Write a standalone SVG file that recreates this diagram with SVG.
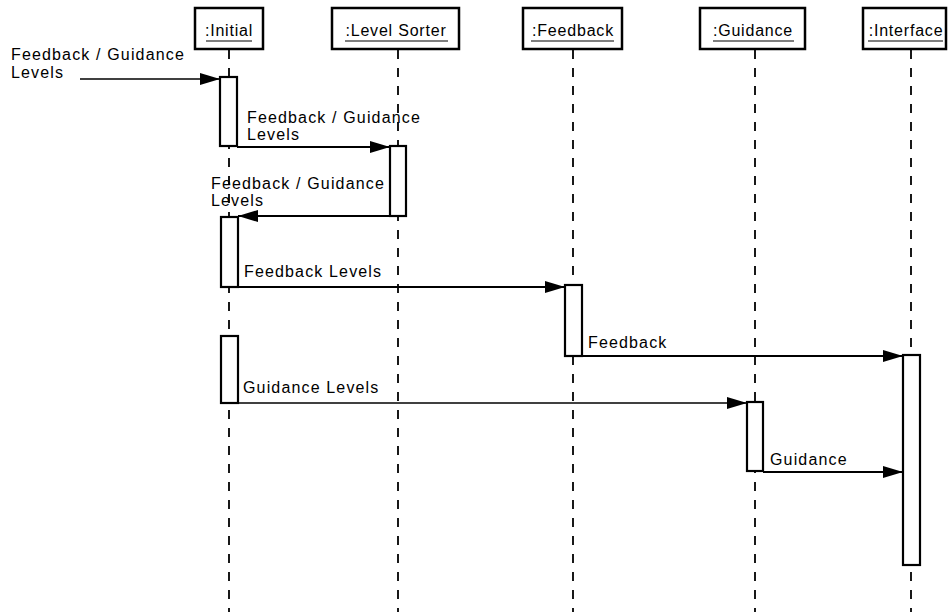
<svg xmlns="http://www.w3.org/2000/svg" width="948" height="612" viewBox="0 0 948 612">
<style>
  text { font-family: "Liberation Sans", Arial, sans-serif; font-size: 16px; letter-spacing: 0.8px; fill: #000; }
  .lbl { letter-spacing: 1.15px; }
  .head { fill: #fff; stroke: #000; stroke-width: 2.5; }
  .uline { stroke: #000; stroke-width: 1.2; }
  .life { stroke: #000; stroke-width: 1.8; stroke-dasharray: 9 9; fill: none; }
  .act { fill: #fff; stroke: #000; stroke-width: 2.2; }
  .msg { stroke: #000; stroke-width: 2.2; fill: none; marker-end: url(#arr); }
  .thin { stroke-width: 1.6; }
</style>
<defs>
  <marker id="arr" markerUnits="userSpaceOnUse" markerWidth="20" markerHeight="12" refX="20" refY="6" orient="auto">
    <path d="M0,0 L20,6 L0,12 Z" fill="#000"/>
  </marker>
</defs>
<rect width="948" height="612" fill="#fff"/>

<g id="lifelines">
  <line class="life" x1="229" y1="50" x2="229" y2="612"/>
  <line class="life" x1="398" y1="50" x2="398" y2="612"/>
  <line class="life" x1="573" y1="50" x2="573" y2="612"/>
  <line class="life" x1="755" y1="50" x2="755" y2="612"/>
  <line class="life" x1="911" y1="50" x2="911" y2="612"/>
</g>

<g id="initial">
  <rect class="head" x="195" y="8" width="68" height="41"/>
  <text x="229" y="36" text-anchor="middle">:Initial</text>
  <line class="uline" x1="206" y1="41" x2="252" y2="41"/>
  <rect class="act" x="220" y="77" width="17" height="69"/>
  <rect class="act" x="221" y="217" width="17" height="70"/>
  <rect class="act" x="221" y="336" width="17" height="67"/>
</g>

<g id="level-sorter">
  <rect class="head" x="332" y="8" width="127" height="41"/>
  <text x="396" y="36" text-anchor="middle">:Level Sorter</text>
  <line class="uline" x1="345" y1="41" x2="448" y2="41"/>
  <rect class="act" x="390" y="146" width="16" height="70"/>
</g>

<g id="feedback">
  <rect class="head" x="523" y="8" width="99" height="41"/>
  <text x="573" y="36" text-anchor="middle">:Feedback</text>
  <line class="uline" x1="531" y1="41" x2="614" y2="41"/>
  <rect class="act" x="565" y="285" width="17" height="71"/>
</g>

<g id="guidance">
  <rect class="head" x="700" y="8" width="105" height="41"/>
  <text x="753" y="36" text-anchor="middle">:Guidance</text>
  <line class="uline" x1="713" y1="41" x2="794" y2="41"/>
  <rect class="act" x="747" y="402" width="16" height="69"/>
</g>

<g id="interface">
  <rect class="head" x="863" y="8" width="83" height="41"/>
  <text x="906" y="36" text-anchor="middle">:Interface</text>
  <line class="uline" x1="868" y1="41" x2="943" y2="41"/>
  <rect class="act" x="903" y="355" width="17" height="210"/>
</g>

<g id="connectors">
  <line class="msg thin" x1="80" y1="79" x2="220" y2="79"/>
  <line class="msg" x1="237" y1="147" x2="390" y2="147"/>
  <line class="msg" x1="390" y1="216" x2="238" y2="216"/>
  <line class="msg" x1="238" y1="287" x2="565" y2="287"/>
  <line class="msg" x1="582" y1="356" x2="903" y2="356"/>
  <line class="msg thin" x1="238" y1="403" x2="747" y2="403"/>
  <line class="msg" x1="763" y1="472" x2="903" y2="472"/>
</g>

<g id="labels">
  <text class="lbl" x="11" y="60">Feedback / Guidance</text>
  <text class="lbl" x="11" y="78">Levels</text>
  <text class="lbl" x="247" y="123">Feedback / Guidance</text>
  <text class="lbl" x="247" y="140">Levels</text>
  <text class="lbl" x="211" y="189">Feedback / Guidance</text>
  <text class="lbl" x="211" y="206">Levels</text>
  <text class="lbl" x="244" y="277">Feedback Levels</text>
  <text class="lbl" x="588" y="348">Feedback</text>
  <text class="lbl" x="243" y="393">Guidance Levels</text>
  <text class="lbl" x="770" y="465">Guidance</text>
</g>
</svg>
